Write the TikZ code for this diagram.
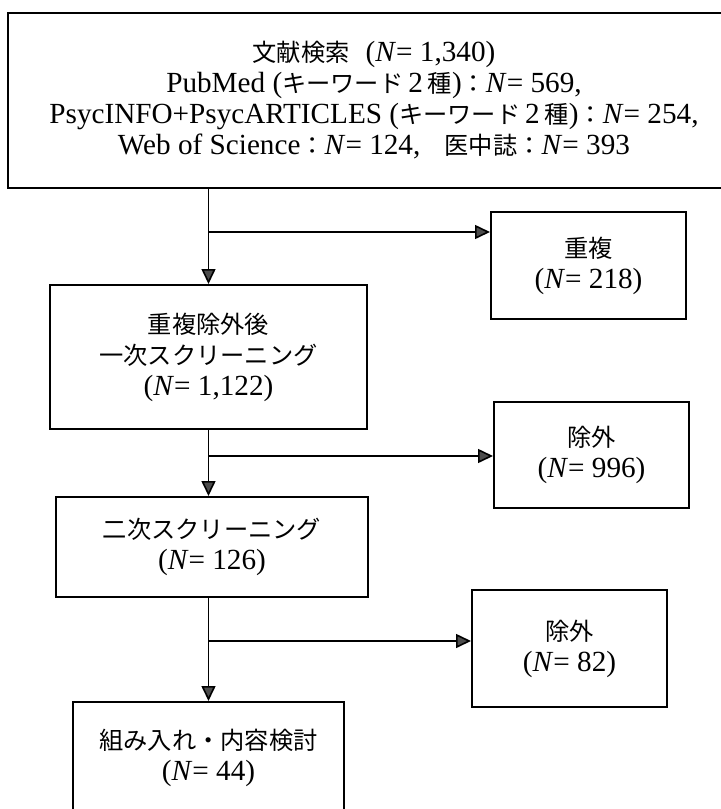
\documentclass[tikz,border=0pt]{standalone}
\usepackage{fontspec}
\setmainfont{Liberation Serif}
\newfontfamily\jpfont{Noto Sans CJK JP}[Scale=0.83]
\usetikzlibrary{arrows.meta}
\newcommand{\ja}[1]{{\jpfont #1}}
\newcommand{\nval}[1]{(\textit{N}= #1)}

\begin{document}
\begin{tikzpicture}[x=0.5pt,y=-0.5pt,
    box/.style={draw, line width=1pt, align=center, inner sep=0pt,
      font=\fontsize{14.6}{15.5}\selectfont},
    arr/.style={line width=0.8pt, -{Triangle[length=7.5pt,width=7pt,fill=gray!60!black]}}]
    \useasboundingbox (0,0) rectangle (720,809);
    % main column
    \node[box, minimum width=366pt, minimum height=87.5pt] (search) at (374,100.5)
      {\ja{文献検索}\hspace{8pt}\nval{1,340}\\
       PubMed (\ja{キーワード}\,2\,\ja{種})\ja{：}\textit{N}= 569,\\
       PsycINFO+PsycARTICLES (\ja{キーワード}\,2\,\ja{種})\ja{：}\textit{N}= 254,\\
       Web of Science\ja{：}\textit{N}= 124,\ja{　医中誌：}\textit{N}= 393\hspace{16pt}};
    \node[box, minimum width=158.5pt, minimum height=72pt] (first) at (208.5,357)
      {\ja{重複除外後}\\ \ja{一次スクリーニング}\\ \nval{1,122}};
    \node[box, minimum width=156pt, minimum height=50pt] (second) at (212,547)
      {\ja{二次スクリーニング}\\ \nval{126}};
    \node[box, minimum width=135.5pt, minimum height=56pt] (final) at (208.5,758)
      {\ja{組み入れ・内容検討}\\ \nval{44}};
    % side boxes
    \node[box, minimum width=97.5pt, minimum height=53.5pt] (dup) at (588.5,265.5)
      {\ja{重複}\\ \nval{218}};
    \node[box, minimum width=97.5pt, minimum height=53pt] (excl1) at (591.5,455)
      {\ja{除外}\\ \nval{996}};
    \node[box, minimum width=97.5pt, minimum height=58.5pt] (excl2) at (569.5,648.5)
      {\ja{除外}\\ \nval{82}};
    % connectors
    \coordinate (j1) at (208.5,232);
    \coordinate (j2) at (208.5,456);
    \coordinate (j3) at (208.5,641);
    \draw[arr] (first.north |- search.south) -- (first.north);
    \draw[arr] (j1) -- (j1 -| dup.west);
    \draw[arr] (first.south) -- (first.south |- second.north);
    \draw[arr] (j2) -- (j2 -| excl1.west);
    \draw[arr] (second.south -| final.north) -- (final.north);
    \draw[arr] (j3) -- (j3 -| excl2.west);
\end{tikzpicture}
\end{document}
